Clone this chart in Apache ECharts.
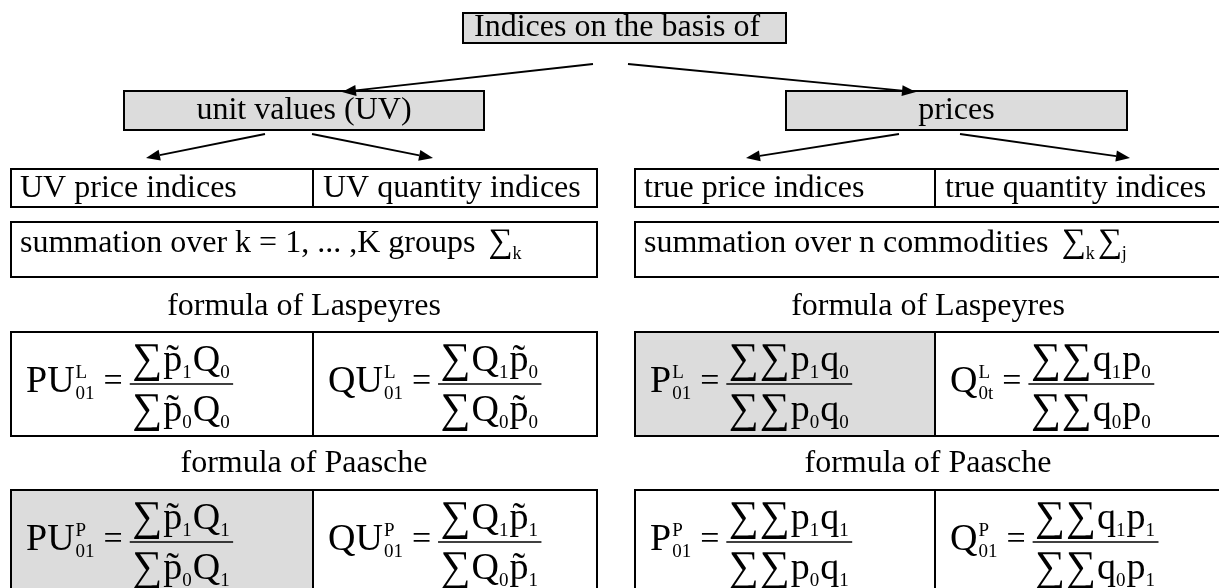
<!DOCTYPE html>
<html><head><meta charset="utf-8">
<script src="https://cdn.jsdelivr.net/npm/echarts@6/dist/echarts.min.js"></script>
<style>html,body{margin:0;padding:0;background:#fff}#c{width:1219px;height:588px}</style>
</head><body><div id="c"></div>
<script>
// ---------------- data (texts of the diagram) ----------------
const titleLabel = 'Indices on the basis of';
const branchLabels = ['unit values (UV)', 'prices'];
const indexLabels = ['UV price indices', 'UV quantity indices', 'true price indices', 'true quantity indices'];
const summationLabels = ['summation over k = 1, ... ,K groups', 'summation over n commodities'];
const summationIndices = [['k'], ['k', 'j']];
const formulaHeadings = ['formula of Laspeyres', 'formula of Paasche'];
// [lhs, superscript, subscript, numerator tokens, denominator tokens]
const laspeyresFormulas = [
  ['PU', 'L', '01', ['∑', 'p~_1', 'Q_0'], ['∑', 'p~_0', 'Q_0']],
  ['QU', 'L', '01', ['∑', 'Q_1', 'p~_0'], ['∑', 'Q_0', 'p~_0']],
  ['P', 'L', '01', ['∑', '∑', 'p_1', 'q_0'], ['∑', '∑', 'p_0', 'q_0']],
  ['Q', 'L', '0t', ['∑', '∑', 'q_1', 'p_0'], ['∑', '∑', 'q_0', 'p_0']]
];
const paascheFormulas = [
  ['PU', 'P', '01', ['∑', 'p~_1', 'Q_1'], ['∑', 'p~_0', 'Q_1']],
  ['QU', 'P', '01', ['∑', 'Q_1', 'p~_1'], ['∑', 'Q_0', 'p~_1']],
  ['P', 'P', '01', ['∑', '∑', 'p_1', 'q_1'], ['∑', '∑', 'p_0', 'q_1']],
  ['Q', 'P', '01', ['∑', '∑', 'q_1', 'p_1'], ['∑', '∑', 'q_0', 'p_1']]
];
const shadedLaspeyres = 2;  // index of highlighted formula
const shadedPaasche = 0;

// ---------------- layout & style ----------------
const W = 1219, H = 588;
const LAYOUT = {
  title: [463, 13, 786, 43],
  branch: [[124, 91, 484, 130], [786, 91, 1127, 130]],
  arrows: [[593, 64, 342, 92], [628, 64, 916, 92], [265, 134, 146, 158], [312, 134, 433, 158], [899, 134, 746, 158], [960, 134, 1130, 158]],
  blocks: [[11, 313, 597], [635, 935, 1221]],
  row1: [169, 207], row2: [222, 277], sumBase: 254, head1: 307, rowL: [332, 436], head2: 464, rowP: [490, 600]
};
const FONT = '"Liberation Serif", "Times New Roman", Times, serif';
const LS = 32, M = 38, S = 19, G = 42, GS = 34, SS = 18, EQ = 34;
const GRAY = '#dcdcdc', LW = 2;

const mctx = document.createElement('canvas').getContext('2d');
function tw(s, size) { mctx.font = size + 'px ' + FONT; return mctx.measureText(s).width; }

let cur = null;
function P(x, y) { return cur.coord([x, y]); }
function rect(x1, y1, x2, y2, fill, stroke) {
  const a = P(x1, y1), b = P(x2, y2);
  return { type: 'rect', shape: { x: a[0], y: a[1], width: b[0] - a[0], height: b[1] - a[1] },
    style: { fill: fill || 'none', stroke: stroke ? '#000' : 'none', lineWidth: LW } };
}
function line(x1, y1, x2, y2, lw) {
  const a = P(x1, y1), b = P(x2, y2);
  return { type: 'line', shape: { x1: a[0], y1: a[1], x2: b[0], y2: b[1] }, style: { stroke: '#000', lineWidth: lw || LW } };
}
function tmid(s, x, y, size, align) {
  const p = P(x, y);
  return { type: 'text', x: p[0], y: p[1], style: { text: s, font: size + 'px ' + FONT, fill: '#000', textAlign: align || 'left', textVerticalAlign: 'middle' } };
}
function tb(s, x, base, size, align) { return tmid(s, x, base - 0.3375 * size, size, align); }

function parseTok(t) {
  if (t === '∑') return { sigma: true };
  const m = t.match(/^([^~_]+)(~)?(?:_(.+))?$/);
  return { base: m[1], tilde: !!m[2], sub: m[3] || '' };
}
function seqWidth(toks) {
  let w = 0;
  toks.forEach(t => {
    const k = parseTok(t);
    if (k.sigma) w += tw('∑', G) + 1;
    else { w += tw(k.base, M); if (k.sub) w += tw(k.sub, S) + 1; }
  });
  return w;
}
function seqEls(toks, x, base) {
  const els = [];
  toks.forEach(t => {
    const k = parseTok(t);
    if (k.sigma) { els.push(tb('∑', x, base + 1, G)); x += tw('∑', G) + 1; return; }
    const bw = tw(k.base, M);
    els.push(tb(k.base, x, base, M));
    if (k.tilde) els.push(tb('˜', x + bw / 2, base, M, 'center'));
    x += bw;
    if (k.sub) { els.push(tb(k.sub, x, base + 5, S)); x += tw(k.sub, S) + 1; }
  });
  return els;
}
function formulaEls(f, cx, barY) {
  const els = [];
  let x = cx + 15;
  const base = barY + 11;
  els.push(tb(f[0], x, base, M)); x += tw(f[0], M);
  els.push(tb(f[1], x + 1, base - 16, S));
  els.push(tb(f[2], x + 1, base + 5, S));
  x += Math.max(tw(f[1], S), tw(f[2], S)) + 1 + 9;
  els.push(tb('=', x, base - 1, EQ)); x += tw('=', EQ) + 7;
  const nw = seqWidth(f[3]), dw = seqWidth(f[4]);
  const bw = Math.max(nw, dw) + 5;
  els.push(...seqEls(f[3], x + (bw - nw) / 2, barY - 10));
  els.push(...seqEls(f[4], x + (bw - dw) / 2, barY + 40));
  els.push(line(x, barY, x + bw, barY, 1.5));
  return els;
}

// ---------------- items ----------------
const items = [];
items.push({ kind: 'box', box: LAYOUT.title, label: titleLabel, align: 'left' });
branchLabels.forEach((t, i) => items.push({ kind: 'box', box: LAYOUT.branch[i], label: t, align: 'center' }));
LAYOUT.arrows.forEach(a => items.push({ kind: 'arrow', a: a }));
LAYOUT.blocks.forEach((b, i) => {
  items.push({ kind: 'split', b: b, y: LAYOUT.row1, labels: [indexLabels[2 * i], indexLabels[2 * i + 1]] });
  items.push({ kind: 'sum', b: b, y: LAYOUT.row2, label: summationLabels[i], idx: summationIndices[i] });
  items.push({ kind: 'heading', b: b, y: LAYOUT.head1, label: formulaHeadings[0] });
  items.push({ kind: 'formulas', b: b, y: LAYOUT.rowL, f: [laspeyresFormulas[2 * i], laspeyresFormulas[2 * i + 1]], shade: shadedLaspeyres - 2 * i });
  items.push({ kind: 'heading', b: b, y: LAYOUT.head2, label: formulaHeadings[1] });
  items.push({ kind: 'formulas', b: b, y: LAYOUT.rowP, f: [paascheFormulas[2 * i], paascheFormulas[2 * i + 1]], shade: shadedPaasche - 2 * i });
});

function build(it) {
  const c = [];
  if (it.kind === 'box') {
    const [x1, y1, x2, y2] = it.box;
    c.push(rect(x1, y1, x2, y2, GRAY, true));
    const cy = (y1 + y2) / 2;
    if (it.align === 'left') c.push(tmid(it.label, x1 + 11, cy, LS));
    else c.push(tmid(it.label, (x1 + x2) / 2, cy, LS, 'center'));
  } else if (it.kind === 'arrow') {
    const [x1, y1, x2, y2] = it.a;
    const dx = x2 - x1, dy = y2 - y1, len = Math.hypot(dx, dy), ux = dx / len, uy = dy / len;
    const hl = 14, hw = 5.5;
    const bx = x2 - ux * hl, by = y2 - uy * hl;
    c.push(line(x1, y1, bx, by, 1.8));
    const pts = [[x2, y2], [bx - uy * hw, by + ux * hw], [bx + uy * hw, by - ux * hw]].map(p => P(p[0], p[1]));
    c.push({ type: 'polygon', shape: { points: pts }, style: { fill: '#000' } });
  } else if (it.kind === 'split') {
    const [x1, mid, x2] = it.b, [y1, y2] = it.y;
    c.push(rect(x1, y1, x2, y2, null, true));
    c.push(line(mid, y1, mid, y2));
    const cy = (y1 + y2) / 2 + 1;
    c.push(tmid(it.labels[0], x1 + 9, cy, LS));
    c.push(tmid(it.labels[1], mid + 10, cy, LS));
  } else if (it.kind === 'sum') {
    const [x1, , x2] = it.b, [y1, y2] = it.y;
    c.push(rect(x1, y1, x2, y2, null, true));
    const base = LAYOUT.sumBase;
    let x = x1 + 9;
    c.push(tb(it.label, x, base, LS));
    x += tw(it.label, LS) + 13;
    it.idx.forEach(k => {
      c.push(tb('∑', x, base + 1, GS)); x += tw('∑', GS);
      c.push(tb(k, x, base + 6, SS)); x += tw(k, SS) + 3;
    });
  } else if (it.kind === 'heading') {
    const [x1, , x2] = it.b;
    c.push(tmid(it.label, (x1 + x2) / 2, it.y, LS, 'center'));
  } else if (it.kind === 'formulas') {
    const [x1, mid, x2] = it.b, [y1, y2] = it.y;
    if (it.shade === 0) c.push(rect(x1, y1, mid, y2, GRAY, false));
    if (it.shade === 1) c.push(rect(mid, y1, x2, y2, GRAY, false));
    c.push(rect(x1, y1, x2, y2, null, true));
    c.push(line(mid, y1, mid, y2));
    const barY = y1 + 52;
    c.push(...formulaEls(it.f[0], x1, barY));
    c.push(...formulaEls(it.f[1], mid, barY));
  }
  return c;
}

const chart = echarts.init(document.getElementById('c'));
chart.setOption({
  animation: false,
  backgroundColor: '#fff',
  grid: { left: 0, right: 0, top: 0, bottom: 0, show: false },
  xAxis: { type: 'value', min: 0, max: W, show: false },
  yAxis: { type: 'value', min: 0, max: H, inverse: true, show: false },
  series: [{
    type: 'custom',
    coordinateSystem: 'cartesian2d',
    clip: false,
    silent: true,
    data: items.map((it, i) => [i, 0]),
    encode: { x: 0, y: 1 },
    renderItem: function (params, api) {
      cur = api;
      return { type: 'group', children: build(items[api.value(0)]) };
    }
  }]
});
</script></body></html>
